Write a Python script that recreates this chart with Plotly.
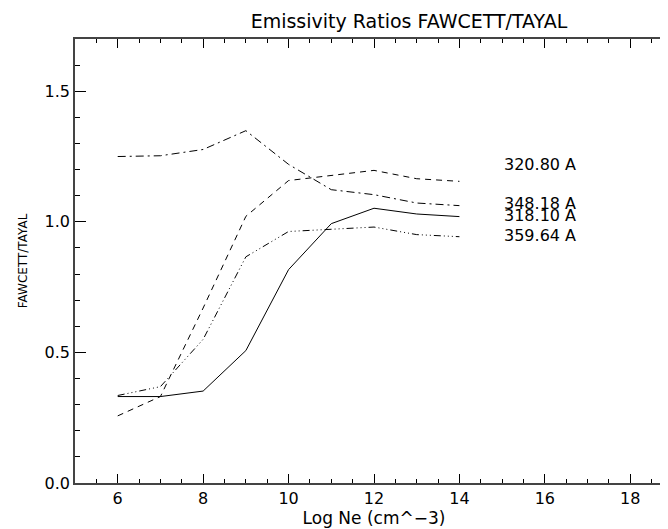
import plotly.graph_objects as go

log_ne = [6, 7, 8, 9, 10, 11, 12, 13, 14]

ratio_318_10 = [0.331, 0.331, 0.352, 0.507, 0.817, 0.993, 1.052, 1.030, 1.020]
ratio_320_80 = [0.257, 0.331, 0.670, 1.021, 1.158, 1.177, 1.197, 1.165, 1.155]
ratio_348_18 = [1.250, 1.253, 1.277, 1.349, 1.220, 1.123, 1.104, 1.072, 1.062]
ratio_359_64 = [0.335, 0.369, 0.550, 0.866, 0.963, 0.972, 0.980, 0.951, 0.943]

line_labels = ["320.80 A", "348.18 A", "318.10 A", "359.64 A"]
label_x = 15
label_y = [1.219, 1.071, 1.024, 0.948]

FONT = "DejaVu Sans"

fig = go.Figure()
series = [
    (ratio_318_10, "solid"),
    (ratio_320_80, "6px,5px"),
    (ratio_348_18, "8px,4px,2px,4px"),
    (ratio_359_64, "7px,3px,1px,3px,1px,3px,1px,3px"),
]
for vals, dash in series:
    fig.add_trace(go.Scatter(
        x=log_ne, y=vals, mode="lines",
        line=dict(color="black", width=1, dash=dash),
        showlegend=False, hoverinfo="skip",
    ))

for txt, yv in zip(line_labels, label_y):
    fig.add_annotation(
        x=label_x, y=yv, text=txt, showarrow=False,
        xanchor="left", yanchor="middle",
        font=dict(family=FONT, size=16, color="black"),
    )

axis_common = dict(
    showgrid=False, zeroline=False,
    showline=True, linecolor="#444444", linewidth=1.5,
    mirror="ticks", ticks="inside", tickcolor="black", tickwidth=1,
    tickfont=dict(family=FONT, size=16, color="black"),
)

fig.update_xaxes(
    range=[5, 19], tick0=6, dtick=2, ticklen=9,
    minor=dict(dtick=0.5, ticks="inside", ticklen=4, tickcolor="black"),
    title=dict(text="Log Ne (cm^−3)", font=dict(family=FONT, size=17, color="black"), standoff=4),
    **axis_common,
)
fig.update_yaxes(
    range=[0, 1.7], tick0=0, dtick=0.5, tickformat=".1f", ticklen=11,
    minor=dict(dtick=0.1, ticks="inside", ticklen=5, tickcolor="black"),
    title=dict(text="FAWCETT/TAYAL", font=dict(family=FONT, size=12, color="black"), standoff=14),
    **axis_common,
)

fig.update_layout(
    width=668, height=529,
    margin=dict(l=67, r=1, t=31, b=54),
    paper_bgcolor="white", plot_bgcolor="white",
    title=dict(
        text="Emissivity Ratios FAWCETT/TAYAL",
        x=(67 + 334) / 668, xanchor="center",
        y=1 - 13 / 529, yanchor="middle",
        font=dict(family=FONT, size=19, color="black"),
    ),
)

fig.write_html("out.html")
